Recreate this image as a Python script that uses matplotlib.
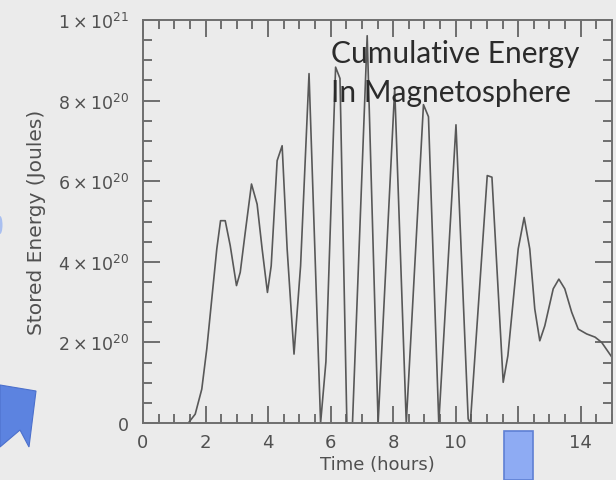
import numpy as np
import matplotlib
matplotlib.use("Agg")
import matplotlib.pyplot as plt
from matplotlib.ticker import FuncFormatter, MultipleLocator
from matplotlib.patches import Polygon, Rectangle, Ellipse

# ---- data (time in hours, stored energy in units of 1e20 J) ----
time_hours = [1.45, 1.67, 1.88, 2.04, 2.20, 2.36, 2.48, 2.63, 2.79, 2.99,
              3.11, 3.27, 3.47, 3.65, 3.81, 3.98, 4.10, 4.29, 4.45, 4.61,
              4.83, 5.04, 5.31, 5.68, 5.85, 6.16, 6.30, 6.52, 6.70, 7.17,
              7.52, 8.05, 8.42, 8.97, 9.13, 9.46, 10.01, 10.40, 10.47, 11.01,
              11.16, 11.52, 11.67, 12.00, 12.19, 12.37, 12.53, 12.69, 12.85, 13.12,
              13.30, 13.49, 13.71, 13.92, 14.19, 14.46, 14.67, 15.0]
energy_e20 = [0, 0.22, 0.84, 1.84, 3.08, 4.32, 5.02, 5.02, 4.40, 3.41,
              3.74, 4.73, 5.93, 5.43, 4.32, 3.24, 3.90, 6.51, 6.88, 4.32,
              1.71, 3.90, 8.67, 0, 1.52, 8.83, 8.55, 0, 0, 9.61,
              0, 8.3, 0, 7.9, 7.6, 0, 7.4, 0.1, 0, 6.14,
              6.1, 1.01, 1.67, 4.32, 5.10, 4.32, 2.83, 2.04, 2.41, 3.33,
              3.57, 3.33, 2.75, 2.33, 2.21, 2.13, 2.0, 1.63]

x_ticks = [0, 2, 4, 6, 8, 10, 12, 14]
y_ticks = [0, 2e20, 4e20, 6e20, 8e20, 1e21]
title_lines = ["Cumulative Energy", "In Magnetosphere"]
xlabel = "Time (hours)"
ylabel = "Stored Energy (Joules)"

BG = "#ebebeb"
AX = "#6e6e6e"
TXT = "#505050"

plt.rcParams["font.family"] = ["DejaVu Sans"]
plt.rcParams["mathtext.fontset"] = "custom"
plt.rcParams["mathtext.rm"] = "DejaVu Sans"
plt.rcParams["mathtext.it"] = "DejaVu Sans"

fig = plt.figure(figsize=(6.16, 4.81), dpi=100, facecolor=BG)
ax = fig.add_axes([143/616, 1-424/481, (612-143)/616, (424-21)/481])
ax.set_facecolor(BG)

y = np.array(energy_e20) * 1e20
ax.plot(time_hours, y, color="#585858", lw=1.2, clip_on=True)

ax.set_xlim(0, 15)
ax.set_ylim(0, 1e21)
ax.set_xticks(x_ticks)
ax.set_yticks(y_ticks)
ax.xaxis.set_minor_locator(MultipleLocator(0.5))
ax.yaxis.set_minor_locator(MultipleLocator(0.5e20))

def yfmt(v, pos):
    if v == 0:
        return "0"
    e = int(np.floor(np.log10(v) + 1e-9))
    m = int(round(v / 10**e))
    return r"$%d\times10^{%d}$" % (m, e)

ax.yaxis.set_major_formatter(FuncFormatter(yfmt))
ax.xaxis.set_major_formatter(FuncFormatter(lambda v, p: "%d" % v))

for sp in ax.spines.values():
    sp.set_color(AX)
    sp.set_linewidth(1.4)

ax.tick_params(which="both", direction="in", top=True, right=True, color=AX, width=1.4)
ax.tick_params(which="major", length=12)
ax.tick_params(which="minor", length=6.5)
ax.tick_params(axis="x", which="major", pad=7, labelsize=13, labelcolor=TXT)
ax.tick_params(axis="y", which="major", pad=10, labelsize=12.5, labelcolor=TXT)

ax.set_xlabel(xlabel, fontsize=13, color=TXT, va="center")
ax.xaxis.set_label_coords(0.5, (424-465)/403)
ax.set_ylabel(ylabel, fontsize=14.5, color=TXT, va="center")
ax.yaxis.set_label_coords((37-143)/469, 0.5)

fig.text(331/616, 1-63/481, title_lines[0], fontsize=21.5, family="Lato",
         color="#2b2b2b", ha="left", va="baseline")
fig.text(331/616, 1-102/481, title_lines[1], fontsize=21.5, family="Lato",
         color="#2b2b2b", ha="left", va="baseline")

# slide decorations (blue shapes partly visible in the screenshot)
def fc(px, py):
    return (px/616, 1-py/481)

fig.add_artist(Rectangle(fc(504, 481), 29/616, 49/481, transform=fig.transFigure,
                         facecolor="#8eabf3", edgecolor="#5f80d4", lw=1.2, zorder=5))
arrow = [fc(0, 386), fc(36, 392), fc(29, 448), fc(20, 431), fc(0, 448)]
fig.add_artist(Polygon(arrow, closed=True, transform=fig.transFigure,
                       facecolor="#5c83e0", edgecolor="#4c70cc", lw=0.8, zorder=5))
fig.add_artist(Ellipse(fc(0, 226), 5/616, 18/481, transform=fig.transFigure,
                       facecolor="#a9bff0", edgecolor="none", zorder=5))

fig.savefig("out.png", dpi=100, facecolor=BG)
